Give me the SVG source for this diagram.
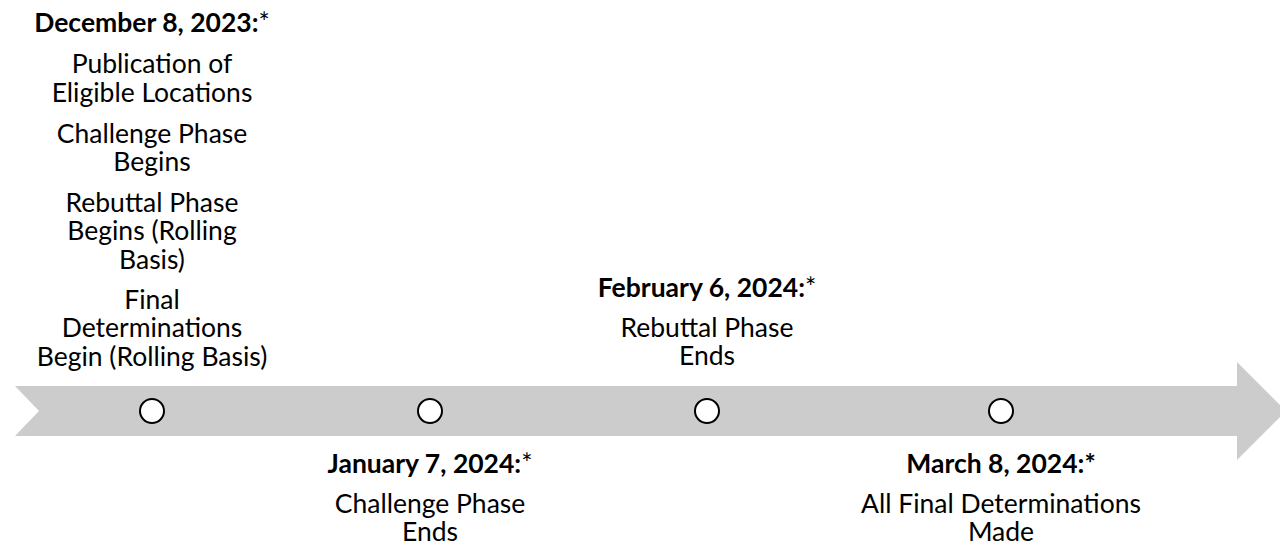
<svg xmlns="http://www.w3.org/2000/svg" width="1280" height="544" viewBox="0 0 1280 544">
<style>
text{font-family:Lato,"Open Sans","Liberation Sans",sans-serif;font-size:26.5px;fill:#000;text-anchor:middle}
.d{font-weight:700}
.r{font-weight:400}
.dot{fill:#fff;stroke:#000;stroke-width:2}
</style>
<rect width="1280" height="544" fill="#fff"/>
<g id="connectors">
<polygon id="timeline-arrow" points="15,386 1237,386 1237,362 1286,411 1237,460 1237,436 15,436 39,411" fill="#cccccc"/>
</g>
<g id="node-dec">
<circle class="dot" cx="152" cy="411" r="12"/>
<text x="152" y="32.3"><tspan class="d">December 8, 2023:</tspan><tspan class="r">*</tspan></text>
<text x="152" y="73.3">Publication of</text>
<text x="152" y="101.6">Eligible Locations</text>
<text x="152" y="142.6">Challenge Phase</text>
<text x="152" y="170.9">Begins</text>
<text x="152" y="211.9">Rebuttal Phase</text>
<text x="152" y="240.2">Begins (Rolling</text>
<text x="152" y="268.5">Basis)</text>
<text x="152" y="309">Final</text>
<text x="152" y="337.3">Determinations</text>
<text x="152" y="365.6">Begin (Rolling Basis)</text>
</g>
<g id="node-jan">
<circle class="dot" cx="430" cy="411" r="12"/>
<text x="430" y="473.3"><tspan class="d">January 7, 2024:</tspan><tspan class="r">*</tspan></text>
<text x="430" y="513.3">Challenge Phase</text>
<text x="430" y="541.3">Ends</text>
</g>
<g id="node-feb">
<circle class="dot" cx="707" cy="411" r="12"/>
<text x="707" y="296.7"><tspan class="d">February 6, 2024:</tspan><tspan class="r">*</tspan></text>
<text x="707" y="336.7">Rebuttal Phase</text>
<text x="707" y="365">Ends</text>
</g>
<g id="node-mar">
<circle class="dot" cx="1001" cy="411" r="12"/>
<text x="1001" y="473.3" class="d">March 8, 2024:*</text>
<text x="1001" y="513.3">All Final Determinations</text>
<text x="1001" y="541.3">Made</text>
</g>
</svg>
